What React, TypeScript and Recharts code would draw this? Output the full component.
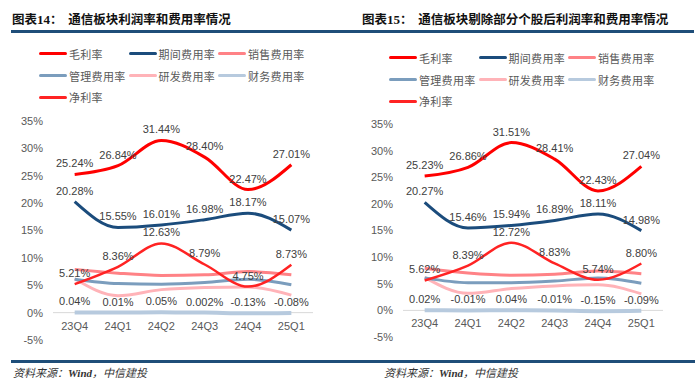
import React from 'react';
import { LineChart, Line, XAxis, YAxis, ReferenceLine, LabelList } from 'recharts';

const quarters = ['23Q4', '24Q1', '24Q2', '24Q3', '24Q4', '25Q1'];
const yTicks = [-5, 0, 5, 10, 15, 20, 25, 30, 35];

// 图表14：通信板块
const grossA = [25.24, 26.84, 31.44, 28.4, 22.47, 27.01];
const periodA = [20.28, 15.55, 16.01, 16.98, 18.17, 15.07];
const salesA = [7.9, 7.2, 6.8, 6.9, 7.5, 6.9];
const adminA = [6.1, 5.3, 5.2, 5.5, 6.1, 5.1];
const rdA = [6.2, 3.1, 4.2, 4.6, 4.7, 3.2];
const financeA = [0.04, 0.01, 0.05, 0.002, -0.13, -0.08];
const netA = [5.21, 8.36, 12.63, 8.79, 4.75, 8.73];

// 图表15：剔除部分个股后
const grossB = [25.23, 26.86, 31.51, 28.41, 22.43, 27.04];
const periodB = [20.27, 15.46, 15.94, 16.89, 18.11, 14.98];
const salesB = [7.9, 7.0, 6.6, 6.8, 7.4, 6.9];
const adminB = [6.1, 5.2, 5.2, 5.5, 6.1, 5.1];
const rdB = [6.2, 3.2, 4.1, 4.6, 4.8, 3.1];
const financeB = [0.02, -0.01, 0.04, -0.01, -0.15, -0.09];
const netB = [5.62, 8.39, 12.72, 8.83, 5.74, 8.8];

const latin = "'Liberation Sans', Arial, sans-serif";
const cjk = "'Noto Sans CJK SC', sans-serif";

// drawing order: bottom first
const series = [
  { key: 'finance', name: '财务费用率', color: '#b7cade', width: 4, label: true },
  { key: 'rd', name: '研发费用率', color: '#ffb3b8', width: 3, label: false },
  { key: 'admin', name: '管理费用率', color: '#7b9dbd', width: 3, label: false },
  { key: 'sales', name: '销售费用率', color: '#ff8286', width: 3, label: false },
  { key: 'net', name: '净利率', color: '#ff2323', width: 2.5, label: true },
  { key: 'period', name: '期间费用率', color: '#1b4c7c', width: 3, label: true },
  { key: 'gross', name: '毛利率', color: '#ff0000', width: 3, label: true },
];

const legendOrder = ['gross', 'period', 'sales', 'admin', 'rd', 'finance', 'net'];

const fmt = (v: number) => {
  const isTwo = Math.abs(Math.round(v * 100) - v * 100) < 1e-6;
  return `${isTwo ? v.toFixed(2) : String(v)}%`;
};

const buildRows = (s: Record<string, number[]>) =>
  quarters.map((q, i) => {
    const row: Record<string, string | number> = { q };
    Object.keys(s).forEach(k => { row[k] = s[k][i]; });
    return row;
  });

const QuarterTick = (p: any) => (
  <text x={p.x} y={p.y - 22} textAnchor="middle" dominantBaseline="central"
    fontSize={11} fill="#595959" fontFamily={latin}>
    {p.payload.value}
  </text>
);

const ChartLegend = ({ top, left }: { top: number; left: number }) => (
  <div style={{ position: 'absolute', top, left, width: 280, display: 'flex', flexWrap: 'wrap', rowGap: 0 }}>
    {legendOrder.map(k => {
      const s = series.find(x => x.key === k)!;
      return (
        <div key={k} style={{ width: 89.5, height: 21.7, display: 'flex', alignItems: 'center' }}>
          <span style={{ display: 'inline-block', width: 28, height: 3, background: s.color, borderRadius: 2, marginRight: 2 }} />
          <span style={{ fontFamily: cjk, fontSize: 11, color: '#595959', letterSpacing: 0.3 }}>{s.name}</span>
        </div>
      );
    })}
  </div>
);

interface PanelProps {
  left: number;
  num: string;
  title: string;
  rows: Record<string, string | number>[];
  plotTop: number;
  plotBottom: number;
  legendTop: number;
  sourceLeft: number;
}

const H = 387;
const AXIS_H = 10;

const Panel = ({ left, num, title, rows, plotTop, plotBottom, legendTop, sourceLeft }: PanelProps) => (
  <div style={{ position: 'absolute', left, top: 0, width: 350, height: H }}>
    <div style={{ position: 'absolute', left: 12, top: 10, fontSize: 12.5, fontWeight: 700, color: '#111', whiteSpace: 'nowrap', fontFamily: cjk, lineHeight: '18px' }}>
      图表<span style={{ fontFamily: "'Liberation Serif', serif", fontSize: 13 }}>{num}</span>：&nbsp;&nbsp;{title}
    </div>
    <ChartLegend top={legendTop} left={39} />
    <div style={{ position: 'absolute', left: 0, top: 0 }}>
      <LineChart width={350} height={H} data={rows}
        margin={{ top: plotTop, right: 37, bottom: H - plotBottom - AXIS_H, left: 0 }}>
        <XAxis dataKey="q" scale="band" axisLine={false} tickLine={false} height={AXIS_H} interval={0} tick={QuarterTick} />
        <YAxis domain={[-5, 35]} ticks={yTicks} interval={0} width={53} axisLine={false} tickLine={false} tickMargin={4}
          tickFormatter={(v: number) => `${v}%`} tick={{ fontSize: 11, fill: '#595959', fontFamily: latin }} />
        <ReferenceLine y={0} stroke="#d9d9d9" strokeWidth={1} />
        {series.map(s => (
          <Line key={s.key} dataKey={s.key} name={s.name} type="monotone" stroke={s.color} strokeWidth={s.width}
            dot={false} activeDot={false} isAnimationActive={false}>
            {s.label && (
              <LabelList dataKey={s.key} position="top" offset={7} formatter={(v: any) => fmt(Number(v))}
                fontSize={11} fill="#404040" fontFamily={latin} />
            )}
          </Line>
        ))}
      </LineChart>
    </div>
    <div style={{ position: 'absolute', left: sourceLeft, top: 364, fontSize: 11, fontStyle: 'italic', color: '#333', fontFamily: "'Liberation Serif', 'Noto Sans CJK SC', serif", whiteSpace: 'nowrap' }}>
      资料来源：<b>Wind</b>，中信建投
    </div>
  </div>
);

const App = () => {
  const rowsA = buildRows({ gross: grossA, period: periodA, sales: salesA, admin: adminA, rd: rdA, finance: financeA, net: netA });
  const rowsB = buildRows({ gross: grossB, period: periodB, sales: salesB, admin: adminB, rd: rdB, finance: financeB, net: netB });
  return (
    <div style={{ position: 'absolute', left: 0, top: 0, width: 700, height: H, background: '#fff', overflow: 'hidden' }}>
      <Panel left={0} num="14" title="通信板块利润率和费用率情况" rows={rowsA}
        plotTop={121} plotBottom={340} legendTop={43} sourceLeft={13} />
      <Panel left={350} num="15" title="通信板块剔除部分个股后利润率和费用率情况" rows={rowsB}
        plotTop={124} plotBottom={337} legendTop={47} sourceLeft={34} />
      <div style={{ position: 'absolute', left: 11, top: 30, width: 683, height: 2.5, background: '#1f4e79' }} />
      <div style={{ position: 'absolute', left: 11, top: 360, width: 684, height: 2.5, background: '#1f4e79' }} />
    </div>
  );
};

export default App;
